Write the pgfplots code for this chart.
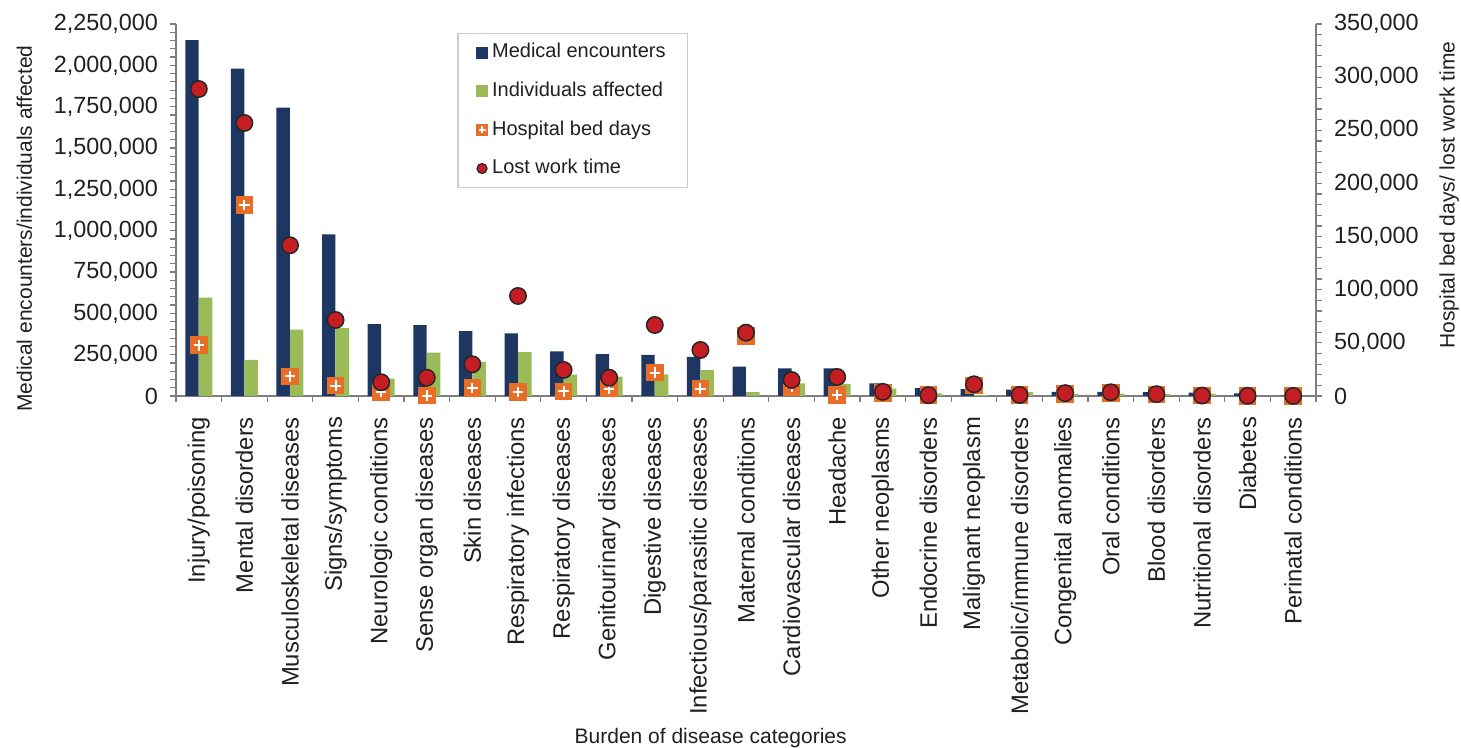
\documentclass[border=0pt]{standalone}
\usepackage{fontspec}
\setmainfont{Liberation Sans}
\usepackage{pgfplots}
\usepackage{pgfplotstable}
\pgfplotsset{compat=1.18}

\definecolor{encblue}{RGB}{29,54,98}
\definecolor{indgreen}{RGB}{155,187,89}
\definecolor{bedorange}{RGB}{232,110,40}
\definecolor{lostred}{RGB}{196,30,36}
\definecolor{axgray}{RGB}{125,125,125}
\definecolor{txt}{RGB}{35,31,32}

% orange square with a white plus
\pgfdeclareplotmark{sqplus}{%
  \pgfpathrectangle{\pgfqpoint{-\pgfplotmarksize}{-\pgfplotmarksize}}%
    {\pgfqpoint{2\pgfplotmarksize}{2\pgfplotmarksize}}%
  \pgfusepathqfill
  \pgfpathmoveto{\pgfqpoint{-0.6\pgfplotmarksize}{0pt}}%
  \pgfpathlineto{\pgfqpoint{0.6\pgfplotmarksize}{0pt}}%
  \pgfpathmoveto{\pgfqpoint{0pt}{-0.6\pgfplotmarksize}}%
  \pgfpathlineto{\pgfqpoint{0pt}{0.6\pgfplotmarksize}}%
  \pgfusepathqstroke
}

% x enc ind bed lost
\pgfplotstableread{
x  enc     ind    bed    lost
0  2153000 595000 47700  288800
1  1980000 218000 179700 256900
2  1744000 401000 18500  141800
3  978000  411000 9700   71500
4  434000  105000 4000   12900
5  428000  262000 300    17200
6  393000  206000 7500   29800
7  379000  266000 3800   94100
8  270000  129000 4400   24500
9  254000  117000 7000   17200
10 248000  131000 22000  66800
11 236000  157000 6900   43300
12 177000  24000  56500  59600
13 167000  77000  8700   15000
14 167000  73000  1000   17900
15 77000   45000  3000   3900
16 47000   16000  1000   700
17 41000   5000   10000  11000
18 39000   23000  700    1000
19 25000   11000  2000   2700
20 25000   15000  3000   3500
21 23000   11000  1500   1700
22 21000   15000  300    400
23 16000   2000   100    200
24 3000    500    100    100
}\data

\pgfplotsset{
  common/.style={
    at={(0,0)}, anchor=south west,
    scale only axis, width=570pt, height=186pt,
    xmin=-0.5, xmax=24.5,
    tick align=outside,
    major tick length=3pt, minor tick length=3pt,
    axis line style={axgray, line width=0.6pt},
    tick style={axgray, line width=0.6pt},
    scaled y ticks=false,
    yticklabel style={font=\fontsize{11.7}{13}\selectfont, text=txt,
      /pgf/number format/fixed, /pgf/number format/1000 sep={,},
      /pgf/number format/assume math mode=true},
    label style={font=\fontsize{10.5}{12}\selectfont, text=txt},
    minor y tick num=4,
  }
}

\begin{document}
\begin{tikzpicture}
\begin{axis}[
  common,
  ymin=0, ymax=2250000,
  ytick={0,250000,...,2250000},
  axis y line*=left, axis x line*=bottom,
  yticklabel shift=2.5pt,
  xtick={0,...,24},
  xticklabels={Injury/poisoning, Mental disorders, Musculoskeletal diseases,
    Signs/symptoms, Neurologic conditions, Sense organ diseases, Skin diseases,
    Respiratory infections, Respiratory diseases, Genitourinary diseases,
    Digestive diseases, Infectious/parasitic diseases, Maternal conditions,
    Cardiovascular diseases, Headache, Other neoplasms, Endocrine disorders,
    Malignant neoplasm, Metabolic/immune disorders, Congenital anomalies,
    Oral conditions, Blood disorders, Nutritional disorders, Diabetes,
    Perinatal conditions},
  major x tick style={draw=none},
  minor xtick={-0.5,0.5,...,24.5},
  minor x tick style={axgray},
  xticklabel style={rotate=90, anchor=east, font=\fontsize{11.9}{13}\selectfont, text=txt},
  xticklabel shift=4pt,
  xlabel={Burden of disease categories},
  xlabel style={at={(ticklabel cs:0.469)}, anchor=north, yshift=0pt},
  ylabel={Medical encounters/individuals affected},
  ylabel style={at={(ticklabel cs:0.45)}, yshift=4pt},
  ybar, bar width=6.7pt,
]
\addplot[fill=encblue, draw=none, bar shift=-3.4pt] table[x=x, y=enc] {\data};
\addplot[fill=indgreen, draw=none, bar shift=3.4pt] table[x=x, y=ind] {\data};
\end{axis}

\begin{axis}[
  common,
  ymin=0, ymax=350000,
  ytick={0,50000,...,350000},
  axis y line*=right, axis x line=none,
  yticklabel shift=2.5pt,
  ylabel={Hospital bed days/ lost work time},
  ylabel style={at={(ticklabel cs:0.54)}, yshift=-3.5pt},
  legend style={at={(0.2468,0.976)}, anchor=north west,
    draw=black!20, line width=0.6pt, inner xsep=9pt, inner ysep=3pt,
    font=\fontsize{10}{12}\selectfont, text=txt,
    row sep=6.1pt,
    nodes={inner sep=2pt, text height=7.2pt, text depth=2pt}},
  legend cell align=left,
]
\addlegendimage{legend image code/.code={\fill[encblue] (0pt,-2.75pt) rectangle (5.5pt,2.75pt);}}
\addlegendentry{Medical encounters}
\addlegendimage{legend image code/.code={\fill[indgreen] (0pt,-2.75pt) rectangle (5.5pt,2.75pt);}}
\addlegendentry{Individuals affected}
\addplot[only marks, mark=sqplus, mark size=4.4pt,
  mark options={fill=bedorange, draw=white, line width=1pt},
  legend image code/.code={\fill[bedorange] (0pt,-2.75pt) rectangle (5.5pt,2.75pt);
    \draw[white, line width=0.8pt] (1pt,0pt)--(4.5pt,0pt) (2.75pt,-1.75pt)--(2.75pt,1.75pt);}]
  table[x=x, y=bed] {\data};
\addlegendentry{Hospital bed days}
\addplot[only marks, mark=*, mark size=4.1pt,
  mark options={fill=lostred, draw=black!85, line width=0.75pt},
  legend image code/.code={\draw[fill=lostred, draw=black!85, line width=0.6pt] (2.75pt,0pt) circle (2.5pt);}]
  table[x=x, y=lost] {\data};
\addlegendentry{Lost work time}
\end{axis}
\pgfresetboundingbox
\path[use as bounding box] (-88pt,-176pt) rectangle (642.5pt,198pt);
\end{tikzpicture}
\end{document}
